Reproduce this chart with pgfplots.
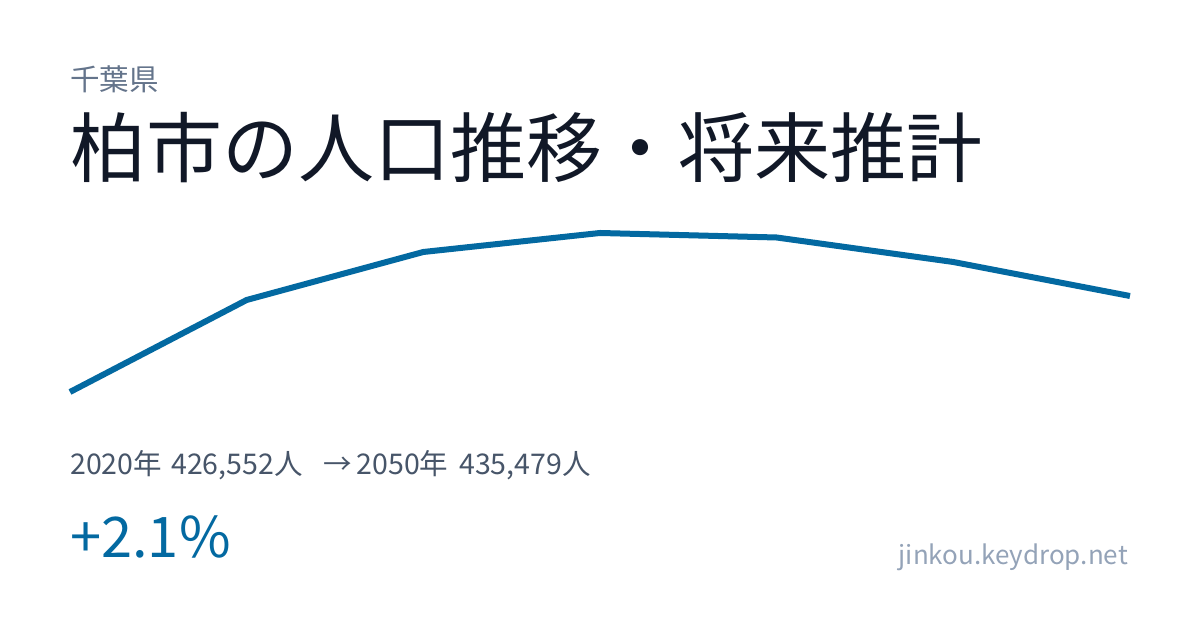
\documentclass[border=0pt]{standalone}
\usepackage{fontspec}
\setmainfont{Noto Sans CJK JP}
\usepackage{pgfplots}
\pgfplotsset{compat=1.18}

\definecolor{linecol}{HTML}{0369A1}
\definecolor{titlecol}{HTML}{111827}
\definecolor{subcol}{HTML}{475569}
\definecolor{prefcol}{HTML}{64748B}
\definecolor{urlcol}{HTML}{94A3B8}

% population of Kashiwa, 2020-2050 (5-year steps)
\pgfplotstableread{
year pop
2020 426552
2025 435108
2030 439572
2035 441339
2040 440920
2045 438642
2050 435479
}\popdata

\begin{document}
\begin{tikzpicture}[x=1bp,y=1bp,
    sub/.style={anchor=base west, inner sep=0, text=subcol,
      font=\fontsize{28.5bp}{32bp}\selectfont}]
  \fill[white] (0,0) rectangle (1200,630);

  \node[anchor=base west, inner sep=0, text=prefcol,
        font=\fontsize{29.5bp}{33bp}\selectfont] at (70,539) {千葉県};
  \node[anchor=base west, inner sep=0, text=titlecol,
        font=\fontsize{76bp}{86bp}\selectfont] at (70,453) {柏市の人口推移・将来推計};

  \begin{axis}[
      anchor=south west, at={(70bp,238bp)},
      width=1060bp, height=159bp, scale only axis,
      xmin=2020, xmax=2050,
      ymin=426552, ymax=441339,
      hide axis, clip=false,
    ]
    \addplot[color=linecol, line width=6bp, line join=round] table[x=year, y=pop] {\popdata};
  \end{axis}

  % subtitle set piece by piece to keep the reference's spacing
  \node[sub] at (70,155) {2020年};
  \node[sub] at (171,155) {426,552人};
  \node[sub, anchor=base] at (338,155) {→};
  \node[sub] at (356.5,155) {2050年};
  \node[sub] at (459,155) {435,479人};

  \node[anchor=base west, inner sep=0, text=linecol,
        font=\fontsize{56bp}{62bp}\selectfont] at (70,72) {+2.1\%};
  \node[anchor=base east, inner sep=0, text=urlcol,
        font=\fontsize{26bp}{30bp}\selectfont] at (1128,65) {jinkou.keydrop.net};
\end{tikzpicture}
\end{document}
